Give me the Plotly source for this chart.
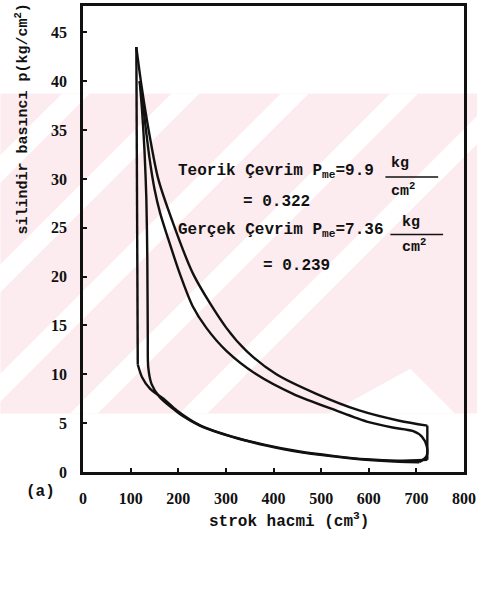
import plotly.graph_objects as go

# theoretical cycle (outer loop), split at its sharp corners
teorik_sik_v = [723, 660, 594, 525, 455, 385, 315, 245, 197, 169, 141, 124, 115]      # compression
teorik_sik_p = [1.25, 1.15, 1.3, 1.65, 2.1, 2.75, 3.6, 4.8, 6.3, 7.5, 8.5, 9.7, 11.0]
teorik_yanma_v = [115, 112]                                                          # heat addition
teorik_yanma_p = [11.0, 43.5]
teorik_genis_v = [112, 123, 140, 158, 186, 232, 301, 343, 406, 490, 580, 664, 723]   # expansion
teorik_genis_p = [43.5, 39.5, 34.4, 30.0, 25.9, 20.2, 14.75, 12.4, 10.0, 8.0, 6.3, 5.25, 4.75]
teorik_cikis_v = [723, 723]                                                          # heat rejection
teorik_cikis_p = [4.75, 1.25]

# real cycle (inner loop)
gercek_sik_v = [706, 664, 594, 525, 455, 385, 315, 245, 207, 190, 162, 144, 137, 136, 135,
                133, 129, 124, 119]
gercek_sik_p = [1.0, 1.05, 1.25, 1.6, 2.03, 2.7, 3.56, 4.75, 5.8, 6.44, 7.6, 9.0, 10.7, 14.0, 22.0,
                28.0, 33.0, 37.0, 40.0]
gercek_genis_v = [119, 124, 131, 140, 150, 162, 178, 204, 230, 259, 301, 364, 441, 531, 600, 650,
                  692, 712, 722, 721, 706]
gercek_genis_p = [40.0, 38.5, 35.5, 32.0, 29.0, 26.5, 24.0, 20.2, 17.0, 14.75, 12.4, 10.0, 8.0, 6.3,
                  5.1, 4.55, 4.2, 3.6, 2.6, 1.6, 1.0]

x_ticks = [0, 100, 200, 300, 400, 500, 600, 700, 800]
y_ticks = [0, 5, 10, 15, 20, 25, 30, 35, 40, 45]

TICK_FONT = "Liberation Serif"
TEXT_FONT = "Liberation Mono"
INK = "#111111"

fig = go.Figure()
segments = [
    (teorik_sik_v, teorik_sik_p, "spline"),
    (teorik_yanma_v, teorik_yanma_p, "linear"),
    (teorik_genis_v, teorik_genis_p, "spline"),
    (teorik_cikis_v, teorik_cikis_p, "linear"),
    (gercek_sik_v, gercek_sik_p, "spline"),
    (gercek_genis_v, gercek_genis_p, "spline"),
]
for xs, ys, shape in segments:
    fig.add_trace(go.Scatter(x=xs, y=ys, mode="lines", hoverinfo="skip",
                             line=dict(color=INK, width=2.4, shape=shape, smoothing=0.8)))

# page pixel -> paper coordinates
def px(x):
    return (x - 83) / 383

def py(y):
    return (472 - y) / 469

# watermark band behind the plot (pink with white diagonal stripes)
shapes = [dict(type="rect", xref="paper", yref="paper", layer="below",
               x0=px(0), x1=px(479), y0=py(413), y1=py(91),
               fillcolor="#fcebef", line=dict(width=0))]
for x0 in [-260, -150, -40, 70, 180]:
    path = "M {} {} L {} {} L {} {} L {} {} Z".format(
        px(x0), py(413), px(x0 + 28), py(413), px(x0 + 350), py(91), px(x0 + 322), py(91))
    shapes.append(dict(type="path", xref="paper", yref="paper", layer="below",
                       path=path, fillcolor="white", line=dict(width=0)))
chev = "M {} {} L {} {} L {} {} Z".format(
    px(330), py(413), px(412), py(368), px(457), py(413))
shapes.append(dict(type="path", xref="paper", yref="paper", layer="below",
                   path=chev, fillcolor="white", line=dict(width=0)))

# fraction bars for kg/cm2
shapes.append(dict(type="line", xref="paper", yref="paper", x0=px(387), x1=px(440),
                   y0=py(175), y1=py(175), line=dict(color=INK, width=1.5)))
shapes.append(dict(type="line", xref="paper", yref="paper", x0=px(392), x1=px(445),
                   y0=py(233), y1=py(233), line=dict(color=INK, width=1.5)))

txt = dict(family=TEXT_FONT, size=16, color=INK, weight="bold")
small = dict(family=TEXT_FONT, size=15, color=INK, weight="bold")
annotations = [
    dict(x=px(277), y=py(170), text="Teorik Çevrim P<sub>me</sub>=9.9", font=txt),
    dict(x=px(402), y=py(162), text="kg", font=small),
    dict(x=px(405), y=py(188), text="cm<sup>2</sup>", font=small),
    dict(x=px(278), y=py(200), text="= 0.322", font=txt),
    dict(x=px(282), y=py(229), text="Gerçek Çevrim P<sub>me</sub>=7.36", font=txt),
    dict(x=px(413), y=py(221), text="kg", font=small),
    dict(x=px(416), y=py(245), text="cm<sup>2</sup>", font=small),
    dict(x=px(298), y=py(265), text="= 0.239", font=txt),
    dict(x=px(22), y=py(117), text="silindir basıncı p(kg/cm<sup>2</sup>)", textangle=-90, font=small),
    dict(x=px(290), y=py(521), text="strok hacmi (cm<sup>3</sup>)", font=txt),
    dict(x=px(40), y=py(492), text="(a)", font=txt),
]
for a in annotations:
    a.update(xref="paper", yref="paper", showarrow=False,
             xanchor="center", yanchor="middle")

axis_common = dict(showgrid=False, zeroline=False, showline=True, mirror=True,
                   linecolor=INK, linewidth=2.5, ticks="inside", ticklen=4,
                   tickcolor=INK, tickwidth=1.5, ticklabelstandoff=10,
                   tickfont=dict(family=TICK_FONT, size=16, color=INK, weight="bold"))

fig.update_layout(
    width=479, height=590,
    margin=dict(l=83, r=13, t=3, b=118),
    paper_bgcolor="white", plot_bgcolor="rgba(0,0,0,0)",
    showlegend=False,
    xaxis=dict(range=[0, 800], tickvals=x_ticks, **axis_common),
    yaxis=dict(range=[0, 47.7], tickvals=y_ticks, **axis_common),
    shapes=shapes,
    annotations=annotations,
)

# drop the default page margin so the figure sits at the window corner
fig.write_html("out.html", config={"displayModeBar": False},
               post_script="document.body.style.margin='0';")
